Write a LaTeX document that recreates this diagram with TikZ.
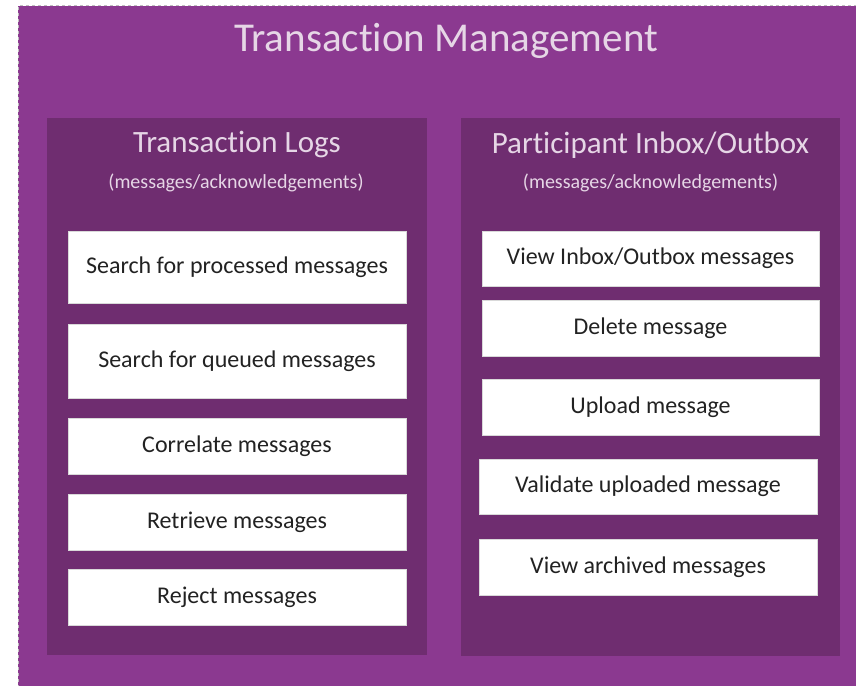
\documentclass[tikz,border=0pt]{standalone}
\usepackage{fontspec}
\setmainfont{Carlito}[Ligatures=NoCommon]
\usepackage{tikz}
\definecolor{mgmtpurple}{HTML}{8B3990}
\definecolor{panelpurple}{HTML}{6F2D70}
\definecolor{titletext}{HTML}{E6D6E6}
\definecolor{itemtext}{HTML}{222222}
\tikzstyle{panel} = [fill=panelpurple, draw=none, rectangle, inner sep=0pt]
\tikzstyle{paneltitle} = [text=titletext, anchor=base, font=\fontsize{31}{33}\selectfont]
\tikzstyle{panelsub} = [text=titletext, anchor=base, font=\fontsize{20}{22}\selectfont]
\tikzstyle{itembox} = [fill=white, draw=black!15, line width=0.8pt, rectangle, inner sep=0pt, text=itemtext, font=\fontsize{24}{26}\selectfont]

\begin{document}
\begin{tikzpicture}[x=1pt, y=-1pt]
\useasboundingbox (0,0) rectangle (856,685);
\clip (0,0) rectangle (856,685);
\fill[white] (0,0) rectangle (856,685);
\fill[mgmtpurple] (18,6) rectangle (870,700);
\draw[draw=black!25, dashed, line width=1pt] (18,700) -- (18,6) -- (870,6);
\node[text=titletext, anchor=base, font=\fontsize{41}{45}\selectfont] (title) at (446,52) {Transaction Management};

% left panel
\node[panel, minimum width=380pt, minimum height=537pt] (logs) at (237,386.5) {};
\node[paneltitle] (logstitle) at (237,152) {Transaction Logs};
\node[panelsub] (logssub) at (236,188) {(messages/acknowledgements)};
\node[itembox, minimum width=338pt, minimum height=72pt] (processed) at (237,267) {Search for processed messages};
\node[itembox, minimum width=338pt, minimum height=74pt] (queued) at (237,361) {Search for queued messages};
\node[itembox, minimum width=338pt, minimum height=56pt] (correlate) at (237,446) {Correlate messages};
\node[itembox, minimum width=338pt, minimum height=56pt] (retrieve) at (237,522) {Retrieve messages};
\node[itembox, minimum width=338pt, minimum height=56pt] (reject) at (237,597) {Reject messages};

% right panel
\node[panel, minimum width=379pt, minimum height=538pt] (inbox) at (650.5,387) {};
\node[paneltitle] (inboxtitle) at (650.5,153) {Participant Inbox/Outbox};
\node[panelsub] (inboxsub) at (650.5,188) {(messages/acknowledgements)};
\node[itembox, minimum width=337pt, minimum height=55pt] (viewbox) at (650.5,258.5) {View Inbox/Outbox messages};
\node[itembox, minimum width=337pt, minimum height=56pt] (delete) at (650.5,328) {Delete message};
\node[itembox, minimum width=337pt, minimum height=56pt] (upload) at (650.5,407) {Upload message};
\node[itembox, minimum width=338pt, minimum height=55pt] (validate) at (648,486.5) {Validate uploaded message};
\node[itembox, minimum width=338pt, minimum height=56pt] (archived) at (648,567) {View archived messages};
\end{tikzpicture}
\end{document}
